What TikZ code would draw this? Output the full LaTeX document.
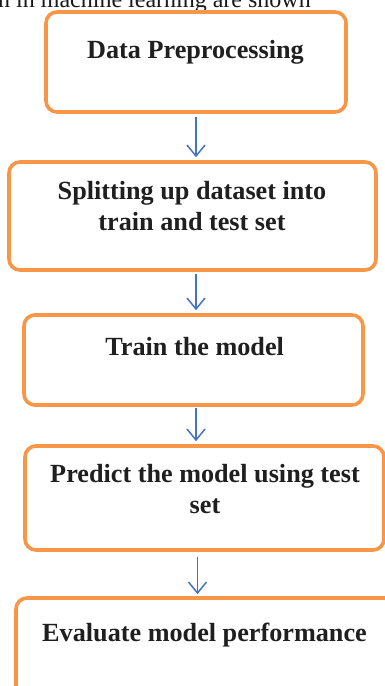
\documentclass[tikz,border=0pt]{standalone}
\usepackage{fontspec}
\setmainfont{Liberation Serif}
\usetikzlibrary{arrows.meta,calc}
\definecolor{boxorange}{RGB}{247,150,70}
\definecolor{arrowblue}{RGB}{68,114,196}
\begin{document}
\begin{tikzpicture}[x=1pt,y=-1pt,
  stepbox/.style={draw=boxorange,line width=3.6pt,rounded corners=11pt,inner sep=0pt,fill=white},
  steptext/.style={font=\fontsize{26.2}{31}\selectfont\bfseries,text=black!88,align=center,inner sep=0pt,anchor=base},
  flowarrow/.style={draw=arrowblue,line width=1.5pt,-{Straight Barb[length=11pt,width=18pt,line width=1.5pt]}}
]
\useasboundingbox (0,0) rectangle (385,686);
\clip (0,0) rectangle (385,686);
% clipped caption line above the chart
\node[font=\fontsize{24}{28}\selectfont,anchor=base west,inner sep=0pt,text=black!90] (cap) at (-2,7.5) {n in machine learning are shown};
% boxes
\node[stepbox,minimum width=300pt,minimum height=100pt] (b1) at (196,62) {};
\node[stepbox,minimum width=367pt,minimum height=108pt] (b2) at (192.5,216) {};
\node[stepbox,minimum width=339pt,minimum height=90pt] (b3) at (193.5,360) {};
\node[stepbox,minimum width=359pt,minimum height=104pt] (b4) at (204.5,498) {};
\node[stepbox,minimum width=380pt,minimum height=102pt] (b5) at (206,649) {};
% texts (base anchor = baseline of the last line)
\node[steptext] (t1) at (195.5,58.3) {Data Preprocessing};
\node[steptext] (t2) at (192,230.5) {Splitting up dataset into\\train and test set};
\node[steptext] (t3) at (194.7,355) {Train the model};
\node[steptext] (t4) at (205,513.5) {Predict the model using test\\set};
\node[steptext] (t5) at (204.5,641.7) {Evaluate model performance};
% arrows
\coordinate (x1) at (196,0);
\coordinate (x2) at (196,0);
\coordinate (x3) at (196,0);
\coordinate (x4) at (197.5,0);
\draw[flowarrow] ($(b1.south -| x1)+(0,3)$) -- ($(b2.north -| x1)+(0,-3)$);
\draw[flowarrow] ($(b2.south -| x2)+(0,2)$) -- ($(b3.north -| x2)+(0,-3)$);
\draw[flowarrow] ($(b3.south -| x3)+(0,1)$) -- ($(b4.north -| x3)+(0,-3)$);
\draw[flowarrow] ($(b4.south -| x4)+(0,5)$) -- ($(b5.north -| x4)+(0,-2)$);
\end{tikzpicture}
\end{document}
